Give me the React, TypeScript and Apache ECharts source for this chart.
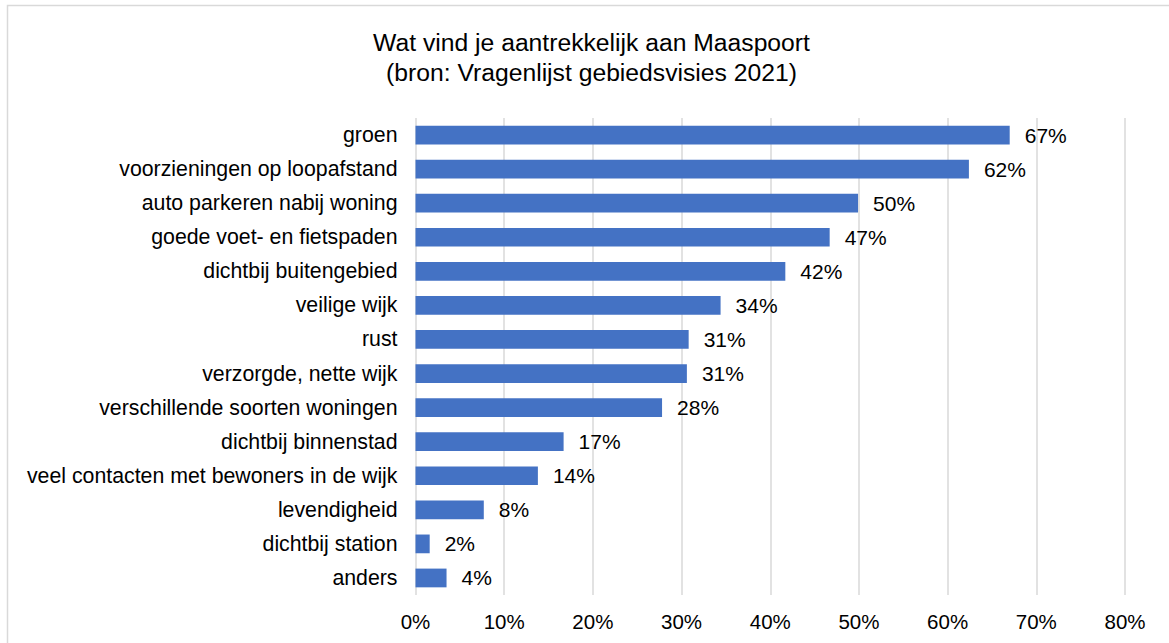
import React, { useEffect, useRef } from "react";
import * as echarts from "echarts";

const titleLines = ["Wat vind je aantrekkelijk aan Maaspoort", "(bron: Vragenlijst gebiedsvisies 2021)"];

const categories = [
  "groen",
  "voorzieningen op loopafstand",
  "auto parkeren nabij woning",
  "goede voet- en fietspaden",
  "dichtbij buitengebied",
  "veilige wijk",
  "rust",
  "verzorgde, nette wijk",
  "verschillende soorten woningen",
  "dichtbij binnenstad",
  "veel contacten met bewoners in de wijk",
  "levendigheid",
  "dichtbij station",
  "anders",
];

const values = [67.0, 62.4, 49.9, 46.7, 41.7, 34.4, 30.8, 30.6, 27.8, 16.7, 13.8, 7.7, 1.6, 3.5];

const xTicks = { min: 0, max: 80, interval: 10 };

const FONT = "'Liberation Sans', Arial, sans-serif";

export default function App() {
  const ref = useRef<HTMLDivElement>(null);
  useEffect(() => {
    if (!ref.current) return;
    const chart = echarts.init(ref.current, undefined, { renderer: "svg" });
    chart.setOption({
      animation: false,
      backgroundColor: "#ffffff",
      textStyle: { fontFamily: FONT },
      graphic: [
        {
          type: "rect",
          shape: { x: 7.5, y: 5.5, width: 1200, height: 700 },
          style: { fill: "none", stroke: "#d9d9d9", lineWidth: 1.5 },
          silent: true,
        },
        ...titleLines.map((t, i) => ({
          type: "text",
          x: 591.5,
          y: 42 + i * 30,
          style: {
            text: t,
            fontFamily: FONT,
            fontSize: 24.7,
            fill: "#000000",
            textAlign: "center",
            textVerticalAlign: "middle",
          },
        })),
      ],
      grid: { left: 415.5, right: 44, top: 118, bottom: 48, containLabel: false },
      xAxis: {
        type: "value",
        min: xTicks.min,
        max: xTicks.max,
        interval: xTicks.interval,
        axisLine: { show: false },
        axisTick: { show: false },
        axisLabel: {
          formatter: "{value}%",
          fontSize: 20.5,
          color: "#000000",
          fontFamily: FONT,
          margin: 16,
        },
        splitLine: { show: true, lineStyle: { color: "#d9d9d9", width: 1.5 } },
      },
      yAxis: {
        type: "category",
        data: categories,
        inverse: true,
        axisLine: { show: false },
        axisTick: { show: false },
        axisLabel: { fontSize: 21.3, color: "#000000", fontFamily: FONT, margin: 18 },
      },
      series: [
        {
          type: "bar",
          data: values,
          barCategoryGap: "45%",
          itemStyle: { color: "#4472c4" },
          label: {
            show: true,
            position: "right",
            distance: 15,
            fontSize: 21,
            color: "#000000",
            fontFamily: FONT,
            formatter: (p: any) => Math.round(p.value) + "%",
          },
        },
      ],
    });
    return () => chart.dispose();
  }, []);
  return (
    <div
      ref={ref}
      style={{ position: "absolute", left: 0, top: 0, width: 1169, height: 643 }}
    />
  );
}
